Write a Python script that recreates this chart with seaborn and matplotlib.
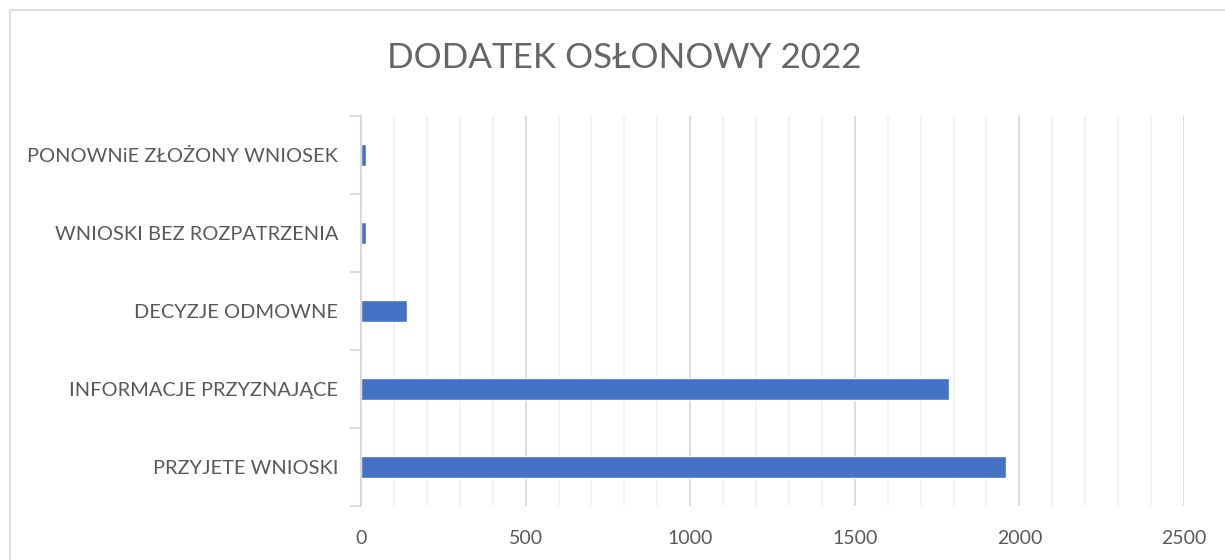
import matplotlib
matplotlib.use("Agg")
import matplotlib.pyplot as plt
from matplotlib.lines import Line2D
from matplotlib.ticker import MultipleLocator, FixedLocator
import seaborn as sns
import pandas as pd

categories = ["PONOWNiE ZŁOŻONY WNIOSEK", "WNIOSKI BEZ ROZPATRZENIA", "DECYZJE ODMOWNE",
              "INFORMACJE PRZYZNAJĄCE", "PRZYJETE WNIOSKI"]
values = [15, 16, 140, 1786, 1960]
x_ticks = [0, 500, 1000, 1500, 2000, 2500]
title = "DODATEK OSŁONOWY 2022"

sns.set_theme(style="white")
plt.rcParams['font.family'] = ['Lato', 'DejaVu Sans']

df = pd.DataFrame({"cat": categories, "val": values})
fig = plt.figure(figsize=(12.25, 5.6), dpi=100)
ax = fig.add_axes([361/1225, 1 - 506/560, (1184 - 361)/1225, (506 - 116)/560])

sns.barplot(data=df, y="cat", x="val", order=categories, orient="h", color="#4472C4",
            width=0.28, saturation=1, ax=ax, zorder=3)

ax.set_xlim(0, 2500)
ax.set_ylim(4.5, -0.5)
ax.set_xticks(x_ticks)
ax.xaxis.set_minor_locator(MultipleLocator(100))
ax.grid(axis="x", which="minor", color="#f2f2f2", linewidth=1.3, zorder=0)
ax.grid(axis="x", which="major", color="#d9d9d9", linewidth=1.3, zorder=0)
ax.set_axisbelow(True)
ax.yaxis.set_minor_locator(FixedLocator([-0.5, 0.5, 1.5, 2.5, 3.5, 4.5]))
ax.tick_params(axis="y", which="minor", length=8, width=1.3, color="#d9d9d9", left=True)
ax.tick_params(axis="y", which="major", length=0, pad=16.5, labelsize=14.4, labelcolor="#595959")
ax.tick_params(axis="x", which="both", length=0, pad=17, labelsize=14, labelcolor="#595959")
ax.set_xlabel("")
ax.set_ylabel("")
for s in ["top", "right", "bottom"]:
    ax.spines[s].set_visible(False)
ax.spines["left"].set_color("#d9d9d9")
ax.spines["left"].set_linewidth(1.5)
ax.spines["left"].set_zorder(4)

fig.text(624/1225, 1 - 58/560, title, ha="center", va="center", fontsize=25.2,
         color="#666666", fontweight="normal")

fig.add_artist(Line2D([10/1225, 1], [1 - 10/560, 1 - 10/560], color="#d9d9d9", linewidth=1.2,
                      transform=fig.transFigure))
fig.add_artist(Line2D([10/1225, 10/1225], [0, 1 - 10/560], color="#d9d9d9", linewidth=1.2,
                      transform=fig.transFigure))

fig.savefig("out.png", dpi=100, facecolor="white")
